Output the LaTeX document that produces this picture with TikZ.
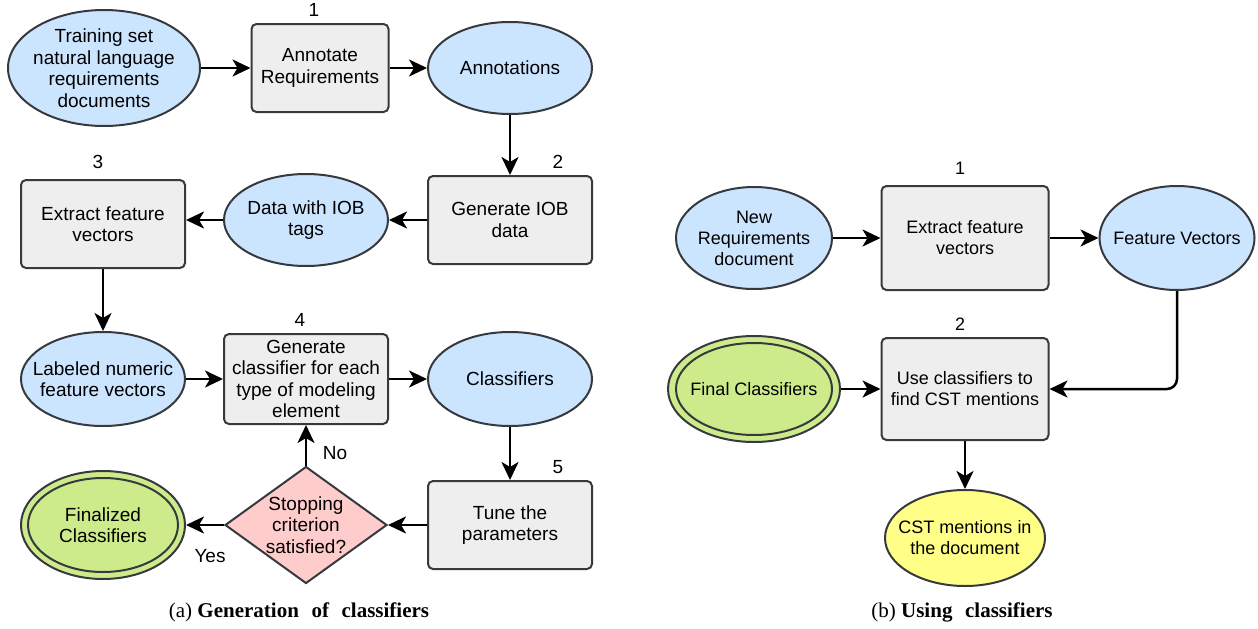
\documentclass[tikz,border=0pt]{standalone}
\usepackage{fontspec}
\setmainfont{Liberation Serif}
\setsansfont{Liberation Sans}
\usetikzlibrary{shapes.geometric,arrows.meta}
\definecolor{bluef}{HTML}{CCE5FF}
\definecolor{grayf}{HTML}{EEEEEE}
\definecolor{greenf}{HTML}{CDEB8B}
\definecolor{pinkf}{HTML}{FFCCCC}
\definecolor{yellowf}{HTML}{FFFF88}
\definecolor{strk}{HTML}{36393D}
\begin{document}
\begin{tikzpicture}[x=1pt,y=-1pt,
  every node/.style={font=\sffamily\fontsize{19}{21.5}\selectfont, align=center, inner sep=0pt},
  rightfont/.style={font=\sffamily\fontsize{18}{21}\selectfont},
  ell/.style={ellipse, draw=strk, line width=2pt, inner xsep=-30pt, inner ysep=-20pt},
  blueell/.style={ell, fill=bluef},
  greenell/.style={ell, fill=greenf},
  yellowell/.style={ell, fill=yellowf},
  procbox/.style={rectangle, rounded corners=5pt, draw=strk, line width=2pt, fill=grayf},
  decision/.style={diamond, draw=strk, line width=2pt, fill=pinkf},
  inner/.style={draw=strk, line width=2pt},
  arr/.style={-{Stealth[length=18pt,width=17pt,inset=5pt]}, line width=2.5pt, black},
  caption/.style={font=\rmfamily\fontsize{21}{24}\selectfont}
]
\useasboundingbox (0,0) rectangle (1258,629);

% ---------- (a) ----------
\node[blueell, minimum width=192pt, minimum height=116pt] (train) at (104,68) {Training set\\natural language\\requirements\\documents};
\node[procbox, minimum width=137pt, minimum height=88pt] (annreq) at (320,68) {Annotate\\Requirements};
\node (n1a) at (314,10) {1};
\node[blueell, minimum width=164pt, minimum height=92pt] (annot) at (510,68) {Annotations};

\node[procbox, minimum width=164pt, minimum height=88pt] (iob) at (510,220) {Generate IOB\\data};
\node (n2a) at (558,162) {2};
\node[blueell, minimum width=164pt, minimum height=92pt] (iobtags) at (306,220) {Data with IOB\\tags};
\node[procbox, minimum width=164pt, minimum height=88pt] (extract) at (103,224) {Extract feature\\vectors};
\node (n3a) at (98,162) {3};

\node[blueell, minimum width=164pt, minimum height=94pt] (labeled) at (103,379) {Labeled numeric\\feature vectors};
\node[procbox, minimum width=164pt, minimum height=90pt] (gen) at (306,379) {Generate\\classifier for each\\type of modeling\\element};
\node (n4a) at (300,320) {4};
\node[blueell, minimum width=164pt, minimum height=94pt] (classif) at (510,379) {Classifiers};

\node[procbox, minimum width=164pt, minimum height=88pt] (tune) at (510,525) {Tune the\\parameters};
\node (n5a) at (558,467) {5};
\node[decision, minimum width=162pt, minimum height=117pt] (stop) at (306,525) {};
\node (stoptxt) at (stop.center) {Stopping\\criterion\\satisfied?};
\node[greenell, minimum width=164pt, minimum height=108pt] (final) at (103,525) {Finalized\\Classifiers};
\draw[inner] (final.center) ellipse [x radius=75, y radius=47];

\draw[arr] (train.east) -- (annreq.west);
\draw[arr] (annreq.east) -- (annot.west);
\draw[arr] (annot.south) -- (iob.north);
\draw[arr] (iob.west) -- (iobtags.east);
\draw[arr] (iobtags.west) -- (extract.east |- iobtags.west);
\draw[arr] (extract.south) -- (labeled.north);
\draw[arr] (labeled.east) -- (gen.west);
\draw[arr] (gen.east) -- (classif.west);
\draw[arr] (classif.south) -- (tune.north);
\draw[arr] (tune.west) -- (stop.east);
\draw[arr] (stop.west) -- (final.east);
\draw[arr] (stop.north) -- (gen.south);
\node (no) at (335,453) {No};
\node (yes) at (210,556) {Yes};

\node[caption] (capa) at (299,612) {(a) \textbf{Generation\hspace{0.6em}of\hspace{0.6em}classifiers}};

% ---------- (b) ----------
\node[blueell, rightfont, minimum width=156pt, minimum height=102pt] (newreq) at (754,238) {New\\Requirements\\document};
\node[procbox, rightfont, minimum width=167pt, minimum height=104pt] (extb) at (965,238) {Extract feature\\vectors};
\node[rightfont] (n1b) at (960,168) {1};
\node[blueell, rightfont, minimum width=155pt, minimum height=104pt] (fv) at (1177,238) {Feature Vectors};

\node[greenell, rightfont, minimum width=172pt, minimum height=106pt] (finb) at (754,389) {Final Classifiers};
\draw[inner] (finb.center) ellipse [x radius=78, y radius=46];
\node[procbox, rightfont, minimum width=167pt, minimum height=102pt] (use) at (965,389) {Use classifiers to\\find CST mentions};
\node[rightfont] (n2b) at (960,324) {2};
\node[yellowell, rightfont, minimum width=160pt, minimum height=96pt] (cst) at (965,538) {CST mentions in\\the document};

\draw[arr] (newreq.east) -- (extb.west);
\draw[arr] (extb.east) -- (fv.west);
\draw[arr, rounded corners=10pt] (fv.south) |- (use.east);
\draw[arr] (finb.east) -- (use.west);
\draw[arr] (use.south) -- (cst.north);

\node[caption] (capb) at (962,612) {(b) \textbf{Using\hspace{0.6em}classifiers}};
\end{tikzpicture}
\end{document}
